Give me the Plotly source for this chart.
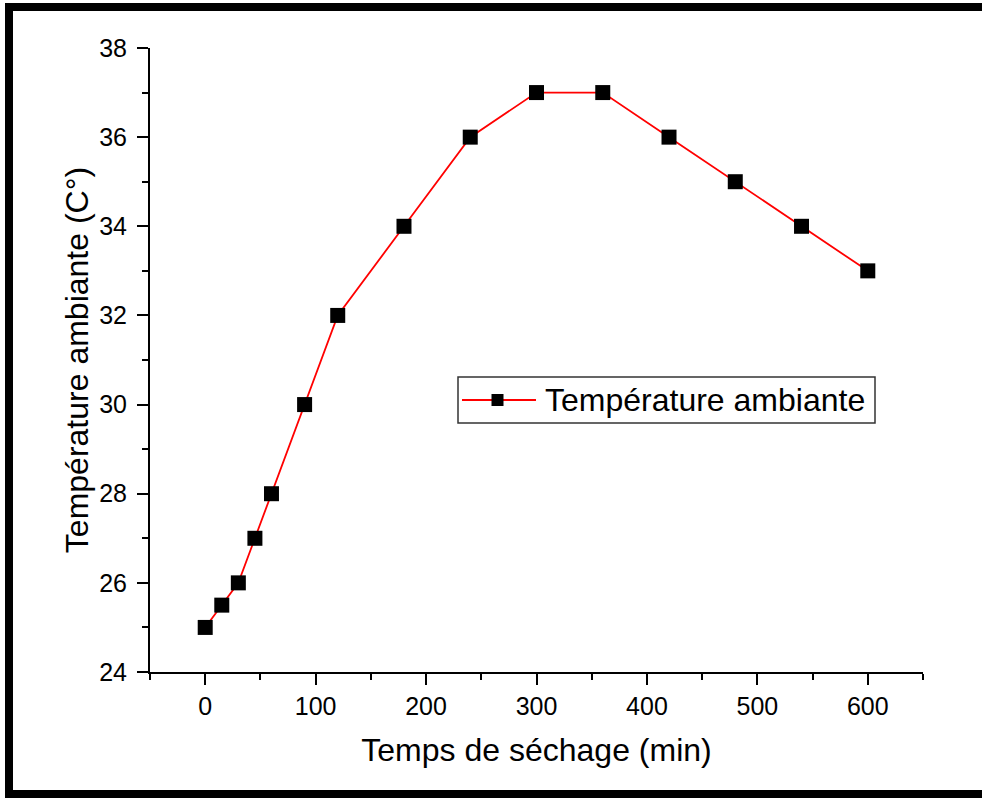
import plotly.graph_objects as go

time_min = [0, 15, 30, 45, 60, 90, 120, 180, 240, 300, 360, 420, 480, 540, 600]
temp_amb = [25, 25.5, 26, 27, 28, 30, 32, 34, 36, 37, 37, 36, 35, 34, 33]
series_name = "Température ambiante"
x_title = "Temps de séchage (min)"
y_title = "Température ambiante (C°)"

W, H = 982, 798
L, R, T, B = 150, 59, 48, 126
pw, ph = W - L - R, H - T - B

def px_x(p):
    return (p - L) / pw

def px_y(p):
    return (H - B - p) / ph

FONT = "Liberation Sans, Arial, sans-serif"
RED = "#ff0000"

fig = go.Figure()
fig.add_trace(go.Scatter(
    x=time_min, y=temp_amb, mode="lines+markers", name=series_name,
    line=dict(color=RED, width=1.8),
    marker=dict(symbol="square", size=15, color="black", line=dict(width=0)),
    showlegend=False,
))

axis_common = dict(
    showline=True, linecolor="black", linewidth=2, mirror=False,
    showgrid=False, zeroline=False,
    ticks="outside", ticklen=11, tickwidth=2, tickcolor="black",
    tickfont=dict(family=FONT, size=25, color="black"),
)

fig.update_xaxes(
    range=[-50, 650], tickvals=[0, 100, 200, 300, 400, 500, 600],
    minor=dict(ticks="outside", ticklen=6, tickwidth=2, tickcolor="black", dtick=50, tick0=0, showgrid=False),
    title=dict(text=x_title, font=dict(family=FONT, size=32, color="black"), standoff=20),
    **axis_common,
)
fig.update_yaxes(
    range=[24, 38], tickvals=[24, 26, 28, 30, 32, 34, 36, 38],
    minor=dict(ticks="outside", ticklen=6, tickwidth=2, tickcolor="black", dtick=1, tick0=24, showgrid=False),
    title=dict(text=y_title, font=dict(family=FONT, size=32, color="black"), standoff=1),
    ticklabelstandoff=5,
    **axis_common,
)

# outer frame
fig.add_shape(
    type="rect", xref="paper", yref="paper",
    x0=px_x(9), x1=px_x(1000), y0=px_y(794), y1=px_y(7),
    line=dict(color="black", width=8), fillcolor="rgba(0,0,0,0)", layer="above",
)

# legend (drawn as decorations)
fig.add_shape(
    type="rect", xref="paper", yref="paper",
    x0=px_x(458), x1=px_x(875), y0=px_y(423), y1=px_y(377),
    line=dict(color="#333333", width=1.5), fillcolor="white", layer="above",
)
fig.add_shape(
    type="line", xref="paper", yref="paper",
    x0=px_x(462), x1=px_x(536), y0=px_y(400), y1=px_y(400),
    line=dict(color=RED, width=1.8), layer="above",
)
fig.add_shape(
    type="rect", xref="paper", yref="paper",
    x0=px_x(491.5), x1=px_x(503.5), y0=px_y(406), y1=px_y(394),
    line=dict(width=0), fillcolor="black", layer="above",
)
fig.add_annotation(
    xref="paper", yref="paper", x=px_x(543), y=px_y(400),
    xanchor="left", yanchor="middle", showarrow=False,
    text=series_name, font=dict(family=FONT, size=32, color="black"),
)

fig.update_layout(
    width=W, height=H,
    margin=dict(l=L, r=R, t=T, b=B),
    paper_bgcolor="white", plot_bgcolor="white",
    showlegend=False,
)

fig.write_html("out.html")
